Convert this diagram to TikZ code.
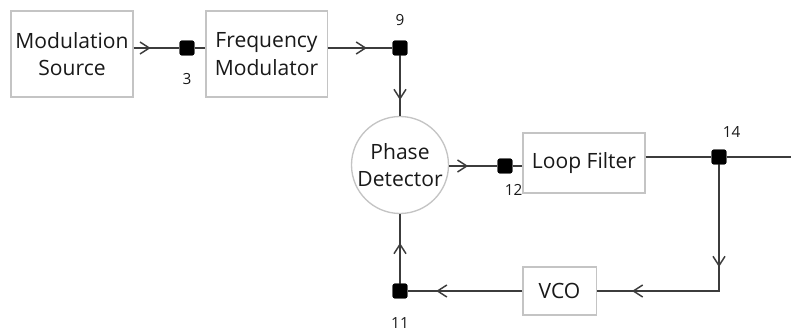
\documentclass[tikz,border=0pt]{standalone}
\usepackage{fontspec}
\setmainfont{Open Sans}
\usetikzlibrary{positioning, arrows.meta, decorations.markings}

\definecolor{boxgray}{HTML}{C4C4C4}
\definecolor{wiregray}{HTML}{3C3C3C}

\begin{document}
\begin{tikzpicture}[
    x=0.75pt, y=-0.75pt,
    % Styles
    block_text/.style={align=center, font=\fontsize{15.8}{20.5}\selectfont, text=black!90},
    block/.style={block_text, draw=boxgray, line width=1pt, fill=white, inner sep=2pt},
    detector/.style={circle, draw=boxgray, line width=1pt, fill=white, inner sep=0pt, minimum size=72.75pt},
    junction/.style={fill=black, rounded corners=1.5pt, minimum size=11pt, inner sep=0pt},
    num_label/.style={font=\fontsize{11.5}{13}\selectfont, text=black!90, inner sep=1pt},
    wire/.style={draw=wiregray, line width=1.2pt},
    chev/.tip={Straight Barb[length=7pt, width=9pt, line width=1.1pt]},
    tipat/.style={postaction={decorate}, decoration={markings,
        mark=at position #1*0.75pt with {\arrow{chev}}}},
    twotips/.style 2 args={postaction={decorate}, decoration={markings,
        mark=at position #1*0.75pt with {\arrow{chev}},
        mark=at position #2*0.75pt with {\arrow{chev}}}}
]
\useasboundingbox (0,0) rectangle (791,331);

% 1. Blocks
\node[block, minimum width=91.5pt, minimum height=64.5pt] (msrc) at (72,54) {Modulation\\Source};
\node[block, minimum width=91pt, minimum height=64.5pt] (fmod) at (266.5,54) {Frequency\\Modulator};
\node[detector, label={[block_text]center:Phase\\Detector}] (pd) at (400,165) {};
\node[block, minimum width=91.5pt, minimum height=45pt] (lf) at (584,163) {Loop Filter};
\node[block, minimum width=55pt, minimum height=36pt] (vco) at (559.5,291) {VCO};

% 2. Junctions
\node[junction] (j3) at (187,48) {};
\node[junction] (j9) at (400,48) {};
\node[junction] (j12) at (505,166) {};
\node[junction] (j14) at (719,157) {};
\node[junction] (j11) at (400,291) {};
\coordinate (out) at (791,157);

% Junction numbers
\node[num_label, below=12pt of j3] (n3) {3};
\node[num_label, above=10pt of j9] (n9) {9};
\node[num_label, below right=7pt and -7pt of j12] (n12) {12};
\node[num_label, above right=8pt and -4pt of j14] (n14) {14};
\node[num_label, below=13pt of j11] (n11) {11};

% 3. Connectors
\draw[wire, tipat=17] (j3 -| msrc.east) -- (j3);
\draw[wire] (j3) -- (j3 -| fmod.west);
\draw[wire, tipat=39] (j9 -| fmod.east) -- (j9);
\draw[wire, tipat=52] (j9.center) -- (pd);
\draw[wire, tipat=19] (j12 -| pd.east) -- (j12);
\draw[wire] (j12) -- (j12 -| lf.west);
\draw[wire] (j14 -| lf.east) -- (j14) -- (out);
\draw[wire, twotips={110}{221}] (j14.center) -- (j14 |- vco) -- (vco.east);
\draw[wire, tipat=86] (vco.west) -- (j11);
\draw[wire, tipat=48] (j11.center) -- (pd);

% junctions on top of the wires
\foreach \j in {j3, j9, j12, j14, j11} {
    \node[junction] at (\j) {};
}

\end{tikzpicture}
\end{document}
